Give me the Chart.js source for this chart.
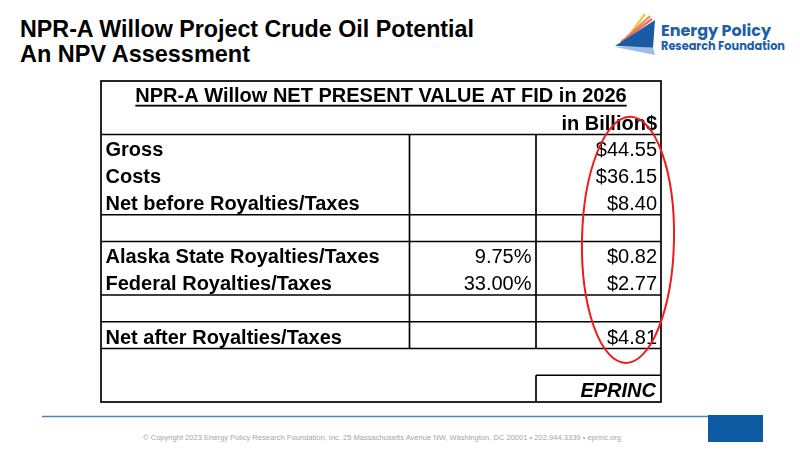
<!DOCTYPE html>
<html>
<head>
<meta charset="utf-8">
<title>NPR-A Willow NPV</title>
<script src="https://cdn.jsdelivr.net/npm/chart.js@4.4.0/dist/chart.umd.min.js"></script>
<style>
    html, body { margin: 0; padding: 0; background: #fff; }
    #slide { position: relative; width: 800px; height: 450px; overflow: hidden; }
    #slide svg { position: absolute; left: 0; top: 0; }
    #table-wrap { position: absolute; left: 97px; top: 77px; width: 584px; height: 329px; }
</style>
</head>
<body>
<div id="slide">
    <svg width="800" height="450" xmlns="http://www.w3.org/2000/svg">
        <!-- slide title -->
        <text x="20" y="37" font-family="Liberation Sans, Arial, sans-serif" font-weight="bold" font-size="24" fill="#000"
              textLength="454" lengthAdjust="spacingAndGlyphs">NPR-A Willow Project Crude Oil Potential</text>
        <text x="20" y="62" font-family="Liberation Sans, Arial, sans-serif" font-weight="bold" font-size="24" fill="#000"
              textLength="230" lengthAdjust="spacingAndGlyphs">An NPV Assessment</text>

        <!-- logo -->
        <line x1="630" y1="34" x2="645" y2="14" stroke="#f6c445" stroke-width="2.2"/>
        <line x1="626" y1="38" x2="650" y2="16" stroke="#f28c4e" stroke-width="2.2"/>
        <line x1="621" y1="42" x2="652" y2="19" stroke="#e9715f" stroke-width="2.2"/>
        <polygon points="615,47 655,55 653,47" fill="#9fc0e3"/>
        <polygon points="615,46 655,20 653,47.5" fill="#1b5ba6"/>
        <text x="661" y="36" font-family="Poppins, Noto Sans, sans-serif" font-weight="bold" font-size="16" fill="#1d5fa8"
              textLength="110" lengthAdjust="spacingAndGlyphs">Energy Policy</text>
        <text x="661" y="50" font-family="Poppins, Noto Sans, sans-serif" font-weight="bold" font-size="12.5" fill="#1d5fa8"
              textLength="124" lengthAdjust="spacingAndGlyphs">Research Foundation</text>

        <!-- footer -->
        <line x1="42" y1="416.5" x2="708" y2="416.5" stroke="#4a86c5" stroke-width="1.5"/>
        <rect x="708" y="415" width="55" height="27" fill="#0b5aa2"/>
        <text x="382" y="440" text-anchor="middle" font-family="Liberation Sans, Arial, sans-serif" font-size="7.5" fill="#a6a6a6"
              textLength="478" lengthAdjust="spacingAndGlyphs">© Copyright 2023 Energy Policy Research Foundation, Inc. 25 Massachusetts Avenue NW, Washington, DC 20001 • 202.944.3339 • eprinc.org</text>
    </svg>
    <div id="table-wrap"><canvas id="npv-table"></canvas></div>
</div>

<script>
// TABLE DATA //

const tableTitle = 'NPR-A Willow NET PRESENT VALUE AT FID in 2026';
const unitLabel = 'in Billion$';
const sourceLabel = 'EPRINC';

const rowLabels = [
    'Gross',
    'Costs',
    'Net before Royalties/Taxes',
    '',
    'Alaska State Royalties/Taxes',
    'Federal Royalties/Taxes',
    '',
    'Net after Royalties/Taxes'
];
const rateValues = [null, null, null, null, 9.75, 33.00, null, null];
const npvValues = [44.55, 36.15, 8.40, null, 0.82, 2.77, null, 4.81];

// TABLE LAYOUT (in table units: x = 0..560, y = rows 0..12) //

const tableWidth = 560;
const colEdges = [0, 308.5, 435, 560];
const headerRows = 2;
const totalRows = 12;
const fullLines = [2, 5, 6, 8, 9, 10];
const font = '"Liberation Sans", Arial, sans-serif';

const tablePlugin = {
    id: 'tableCells',
    afterDatasetsDraw(chart) {
        const ctx = chart.ctx;
        const xs = chart.scales.x;
        const ys = chart.scales.y;
        const px = v => xs.getPixelForValue(v);
        const py = r => ys.getPixelForValue(r);

        ctx.save();
        ctx.strokeStyle = '#000';
        ctx.lineWidth = 1.7;

        const hLine = (row, a, b) => {
            ctx.beginPath();
            ctx.moveTo(px(a), py(row));
            ctx.lineTo(px(b), py(row));
            ctx.stroke();
        };
        const vLine = (col, r0, r1) => {
            ctx.beginPath();
            ctx.moveTo(px(col), py(r0));
            ctx.lineTo(px(col), py(r1));
            ctx.stroke();
        };

        // outer frame and rules
        ctx.strokeRect(px(0), py(0), px(tableWidth) - px(0), py(totalRows) - py(0));
        fullLines.forEach(r => hLine(r, 0, tableWidth));
        vLine(colEdges[1], headerRows, headerRows + rowLabels.length);
        vLine(colEdges[2], headerRows, headerRows + rowLabels.length);
        // source box
        vLine(colEdges[2], totalRows - 1, totalRows);
        hLine(totalRows - 1, colEdges[2], tableWidth);

        ctx.fillStyle = '#000';
        ctx.textBaseline = 'alphabetic';

        // heading, underlined
        ctx.font = 'bold 20px ' + font;
        ctx.textAlign = 'center';
        const titleY = py(1) - 6;
        ctx.fillText(tableTitle, px(tableWidth / 2), titleY);
        const tw = ctx.measureText(tableTitle).width;
        ctx.fillRect(px(tableWidth / 2) - tw / 2, titleY + 3, tw, 1.8);

        ctx.textAlign = 'right';
        ctx.fillText(unitLabel, px(tableWidth) - 4, py(2) - 4.5);

        // body rows
        const meta = chart.getDatasetMeta(0);
        rowLabels.forEach((label, i) => {
            const base = py(headerRows + i + 1) - 5;
            ctx.font = 'bold 20px ' + font;
            ctx.textAlign = 'left';
            ctx.fillText(label, px(0) + 4.5, base);

            ctx.font = '20px ' + font;
            ctx.textAlign = 'right';
            if (rateValues[i] !== null) {
                ctx.fillText(rateValues[i].toFixed(2) + '%', px(colEdges[2]) - 4.5, base);
            }
            if (npvValues[i] !== null) {
                const pt = meta.data[i];
                ctx.fillText('$' + npvValues[i].toFixed(2), pt.x, base);
            }
        });

        // source
        ctx.font = 'italic bold 20px ' + font;
        ctx.textAlign = 'right';
        ctx.fillText(sourceLabel, px(tableWidth) - 5, py(totalRows) - 4.7);

        // red highlight ellipse round the value column
        ctx.strokeStyle = '#f01a1a';
        ctx.lineWidth = 2;
        ctx.beginPath();
        ctx.ellipse(px(527), py(5.94), px(46) - px(0), py(4.6) - py(0), 0.02, 0, Math.PI * 2);
        ctx.stroke();

        ctx.restore();
    }
};

const tableCanvas = document.getElementById('npv-table');

let npvTable = new Chart(tableCanvas, {
    type: 'scatter',
    data: {
        datasets: [{
            label: 'NPV',
            data: npvValues.map((v, i) => ({ x: tableWidth - 4, y: headerRows + i + 0.5 })),
            pointRadius: 0,
            pointHoverRadius: 0
        }]
    },
    options: {
        maintainAspectRatio: false,
        animation: false,
        events: [],
        layout: {
            padding: { left: 4, right: 20, top: 4, bottom: 4 }
        },
        scales: {
            x: { type: 'linear', min: 0, max: tableWidth, display: false },
            y: { type: 'linear', min: 0, max: totalRows, reverse: true, display: false }
        },
        plugins: {
            legend: { display: false },
            tooltip: { enabled: false }
        }
    },
    plugins: [tablePlugin]
});
</script>
</body>
</html>
